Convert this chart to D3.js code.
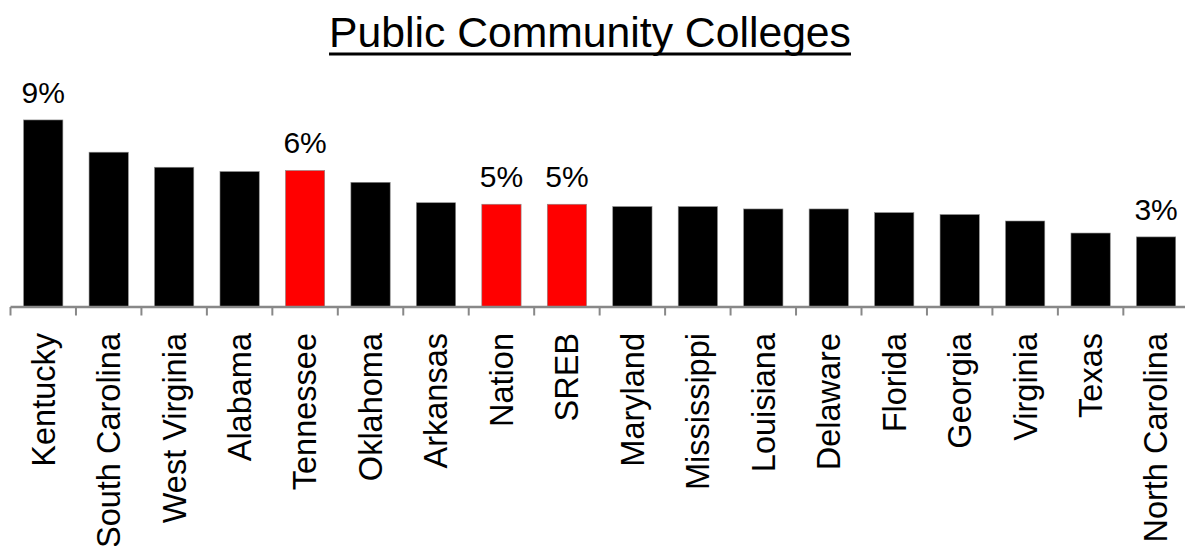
<!DOCTYPE html>
<html>
<head>
<meta charset="utf-8">
<script src="https://cdn.jsdelivr.net/npm/d3@7"></script>
<style>
  body { margin: 0; background: #fff; }
  text { font-family: "Liberation Sans", Arial, sans-serif; }
</style>
</head>
<body>
<div id="chart"></div>
<script>
// States ordered as in the chart, values in percent
const states = ['Kentucky', 'South Carolina', 'West Virginia', 'Alabama', 'Tennessee', 'Oklahoma',
    'Arkansas', 'Nation', 'SREB', 'Maryland', 'Mississippi', 'Louisiana', 'Delaware', 'Florida',
    'Georgia', 'Virginia', 'Texas', 'North Carolina'];
const values = [8.7, 7.2, 6.5, 6.3, 6.35, 5.8, 4.85, 4.78, 4.78, 4.67, 4.67, 4.56, 4.56, 4.39,
    4.3, 4.0, 3.44, 3.26];
const highlighted = ['Tennessee', 'Nation', 'SREB'];
const labelled = ['Kentucky', 'Tennessee', 'Nation', 'SREB', 'North Carolina'];

const width = 1185;
const height = 546;
const axisY = 307;

const svg = d3
    .select('#chart')
    .append('svg')
    .attr('width', width)
    .attr('height', height);

// Title, underlined
const title = svg
    .append('text')
    .attr('x', 590)
    .attr('y', 47)
    .attr('text-anchor', 'middle')
    .attr('font-size', 42.7)
    .attr('fill', '#000')
    .text('Public Community Colleges');
const tb = title.node().getBBox();
svg.append('line')
    .attr('x1', tb.x)
    .attr('x2', tb.x + tb.width)
    .attr('y1', 54)
    .attr('y2', 54)
    .attr('stroke', '#000')
    .attr('stroke-width', 3);

// Scales
const xScale = d3.scaleBand().domain(states).range([10.5, 1188.8]).paddingInner(0.4).paddingOuter(0.2);
const yScale = d3.scaleLinear().domain([0, 1]).range([axisY, axisY - 21.5]);

// Bars
svg.append('g')
    .selectAll('rect')
    .data(states)
    .enter()
    .append('rect')
    .attr('x', (d) => xScale(d))
    .attr('y', (d, i) => yScale(values[i]))
    .attr('width', xScale.bandwidth())
    .attr('height', (d, i) => axisY - yScale(values[i]))
    .attr('fill', (d) => (highlighted.includes(d) ? '#ff0000' : '#000'))
    .attr('stroke', '#8a8a8a')
    .attr('stroke-width', 0.6);

// Value labels on selected bars
svg.append('g')
    .selectAll('text')
    .data(states.filter((d) => labelled.includes(d)))
    .enter()
    .append('text')
    .attr('x', (d) => xScale(d) + xScale.bandwidth() / 2)
    .attr('y', (d) => yScale(values[states.indexOf(d)]) - 17)
    .attr('text-anchor', 'middle')
    .attr('font-size', 30)
    .attr('fill', '#000')
    .text((d) => Math.round(values[states.indexOf(d)]) + '%');

// Category axis: ticks at band boundaries
const step = xScale.step();
const x0 = 10.5;
const axis = svg.append('g');
axis.append('line')
    .attr('x1', x0)
    .attr('x2', width)
    .attr('y1', axisY)
    .attr('y2', axisY)
    .attr('stroke', '#888')
    .attr('stroke-width', 2.5);
axis.selectAll('.tick')
    .data(d3.range(states.length + 1))
    .enter()
    .append('line')
    .attr('x1', (i) => x0 + i * step)
    .attr('x2', (i) => x0 + i * step)
    .attr('y1', axisY)
    .attr('y2', axisY + 8.5)
    .attr('stroke', '#888')
    .attr('stroke-width', 2);

axis.selectAll('.lbl')
    .data(states)
    .enter()
    .append('text')
    .attr('transform', (d) => `translate(${xScale(d) + xScale.bandwidth() / 2}, ${axisY + 26}) rotate(-90)`)
    .attr('dy', '0.35em')
    .attr('text-anchor', 'end')
    .attr('font-size', 32.5)
    .attr('fill', '#000')
    .text((d) => d);
</script>
</body>
</html>
